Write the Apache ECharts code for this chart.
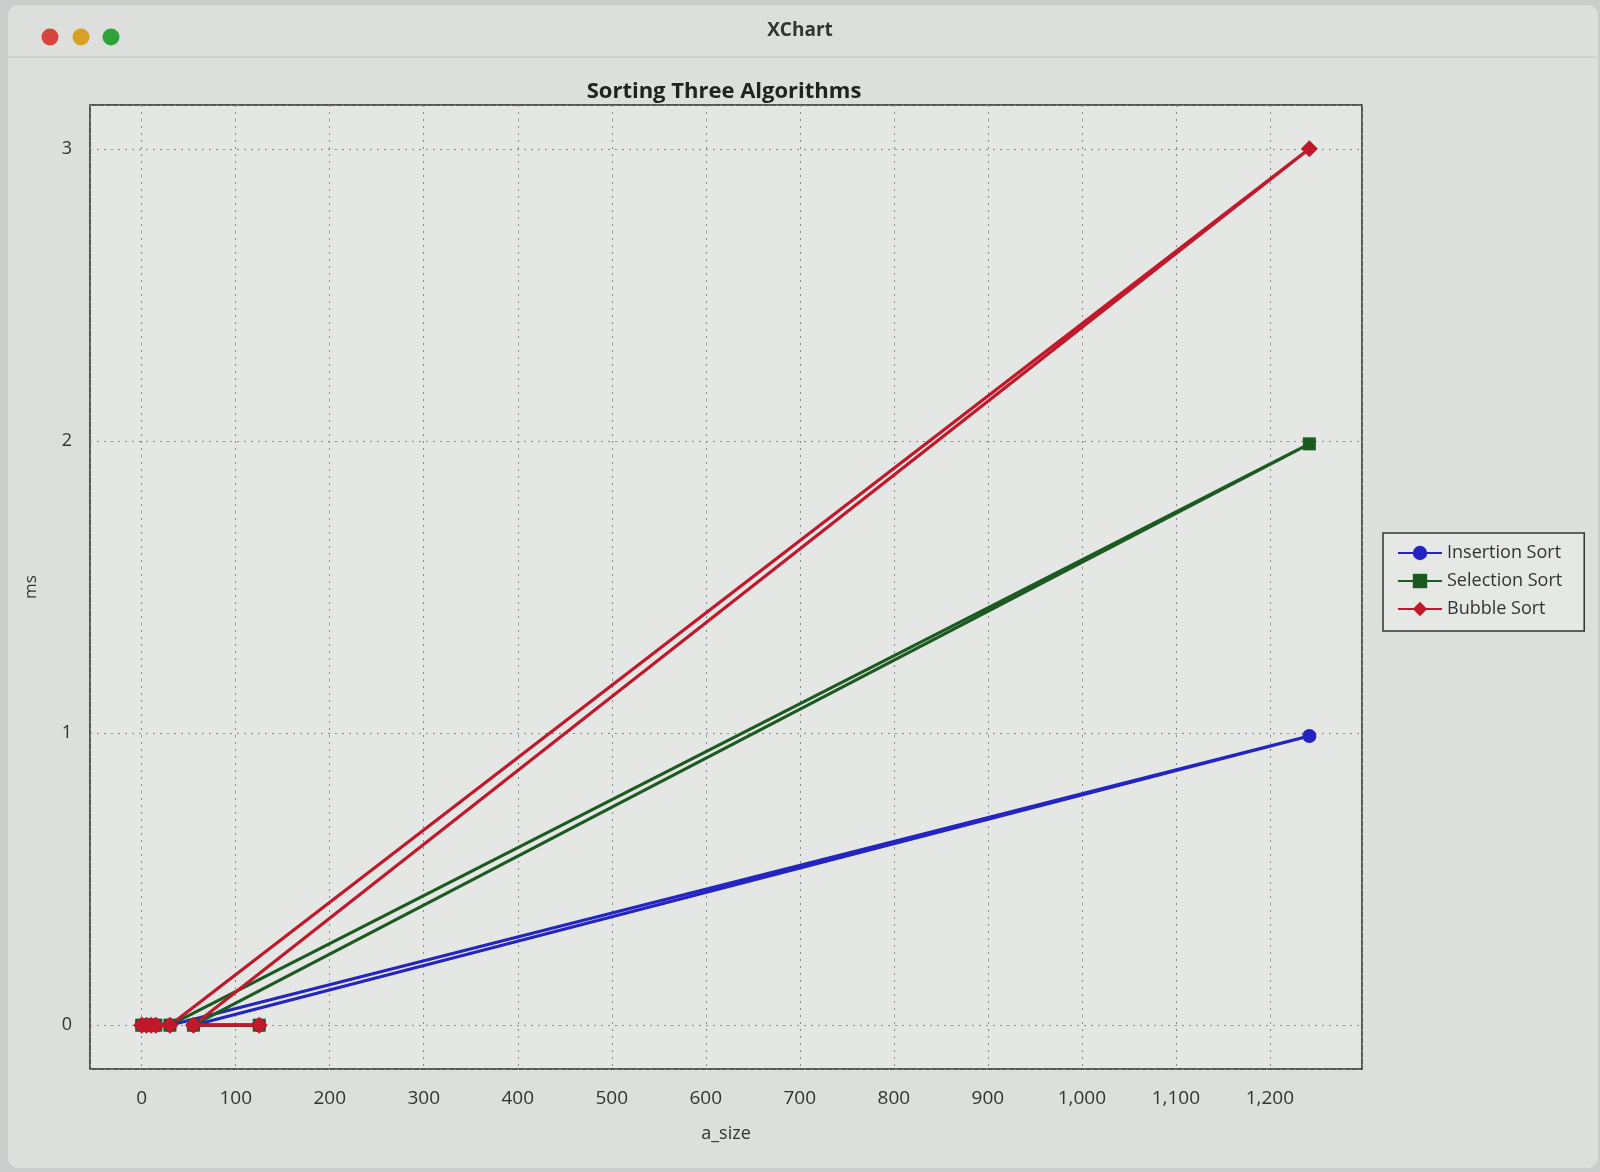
<!DOCTYPE html>
<html>
<head>
<meta charset="utf-8">
<title>XChart</title>
<script src="https://cdn.jsdelivr.net/npm/echarts@6/dist/echarts.min.js"></script>
<style>
  html, body { margin: 0; padding: 0; background: #c9cdcc; }
  #chart { width: 1600px; height: 1172px; }
</style>
</head>
<body>
<div id="chart"></div>
<script>
// a_size values, in the order the benchmark produced them
var sizes = [0, 5, 10, 15, 30, 1242, 55, 125];
var insertionMs = [0, 0, 0, 0, 0, 0.99, 0, 0];
var selectionMs = [0, 0, 0, 0, 0, 1.99, 0, 0];
var bubbleMs = [0, 0, 0, 0, 0, 3.0, 0, 0];
var seriesNames = ['Insertion Sort', 'Selection Sort', 'Bubble Sort'];

function pairs(ys) {
    var out = [];
    for (var i = 0; i < sizes.length; i++) {
        out.push([sizes[i], ys[i]]);
    }
    return out;
}

var font = '"Open Sans", "DejaVu Sans", sans-serif';

echarts.init(document.getElementById('chart')).setOption({
    backgroundColor: '#c9cdcc',
    textStyle: { fontFamily: font },
    graphic: [
        // window body + title bar
        { type: 'rect', shape: { x: 8, y: 5, width: 1590, height: 1163, r: 10 },
          style: { fill: '#dcdfdc' }, z: -10 },
        { type: 'line', shape: { x1: 8, y1: 57, x2: 1598, y2: 57 },
          style: { stroke: '#c4c7c4', lineWidth: 1 }, z: -9 },
        { type: 'circle', shape: { cx: 50, cy: 37, r: 8.5 }, style: { fill: '#d6443c' } },
        { type: 'circle', shape: { cx: 81, cy: 37, r: 8.5 }, style: { fill: '#d9a028' } },
        { type: 'circle', shape: { cx: 111, cy: 37, r: 8.5 }, style: { fill: '#2fa33a' } },
        { type: 'text', left: 'center', top: 21,
          style: { text: 'XChart', font: 'bold 19px ' + font, fill: '#333' } }
    ],
    title: {
        text: 'Sorting Three Algorithms',
        left: 719,
        textAlign: 'center',
        top: 76,
        textStyle: { fontSize: 22, fontWeight: 'bold', color: '#222' }
    },
    legend: {
        orient: 'vertical',
        left: 1383,
        top: 533,
        padding: [11, 22, 13, 14],
        itemGap: 10,
        itemWidth: 44,
        itemHeight: 18,
        backgroundColor: '#e6e8e5',
        borderColor: '#333',
        borderWidth: 1.5,
        textStyle: { fontSize: 18, color: '#333' },
        data: seriesNames
    },
    grid: {
        left: 90,
        right: 238,
        top: 105,
        bottom: 103,
        show: true,
        backgroundColor: '#e4e7e4',
        borderColor: '#2a2a2a',
        borderWidth: 1.5
    },
    xAxis: {
        type: 'value',
        min: -55,
        max: 1298,
        splitNumber: 13,
        name: 'a_size',
        nameLocation: 'middle',
        nameGap: 56,
        nameTextStyle: { fontSize: 18, color: '#333' },
        axisLine: { show: false },
        axisTick: { show: false },
        axisLabel: {
            fontSize: 19,
            color: '#333',
            margin: 20,
            showMinLabel: false,
            showMaxLabel: false,
            formatter: function (v) { return echarts.format.addCommas(v); }
        },
        splitLine: { show: true, lineStyle: { color: '#888', type: [2, 5], width: 1 } }
    },
    yAxis: {
        type: 'value',
        min: -0.15,
        max: 3.15,
        splitNumber: 3,
        minInterval: 1,
        name: 'ms',
        nameLocation: 'middle',
        nameGap: 50,
        nameRotate: 90,
        nameTextStyle: { fontSize: 17, color: '#333' },
        axisLine: { show: false },
        axisTick: { show: false },
        axisLabel: { fontSize: 18, color: '#333', margin: 18, showMinLabel: false, showMaxLabel: false },
        splitLine: { show: true, lineStyle: { color: '#888', type: [2, 5], width: 1 } }
    },
    series: [
        {
            name: seriesNames[0],
            type: 'line',
            symbol: 'circle',
            symbolSize: 14,
            color: '#2424c2',
            lineStyle: { width: 3.2 },
            data: pairs(insertionMs)
        },
        {
            name: seriesNames[1],
            type: 'line',
            symbol: 'rect',
            symbolSize: 13,
            color: '#1d5a22',
            lineStyle: { width: 3.2 },
            data: pairs(selectionMs)
        },
        {
            name: seriesNames[2],
            type: 'line',
            symbol: 'diamond',
            symbolSize: 17,
            color: '#c2182b',
            lineStyle: { width: 3.2 },
            data: pairs(bubbleMs)
        }
    ]
});
</script>
</body>
</html>
